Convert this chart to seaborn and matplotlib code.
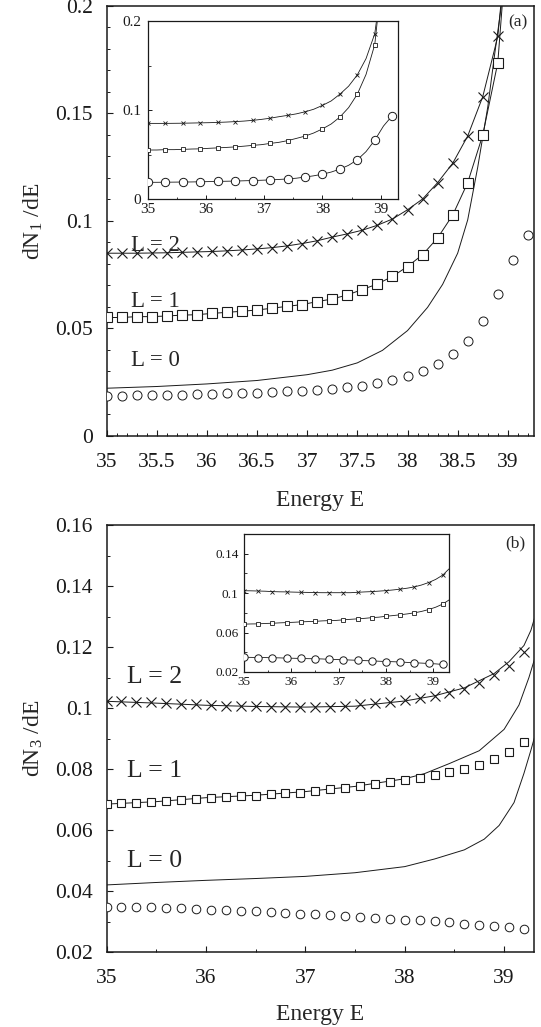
import numpy as np
import pandas as pd
import matplotlib
matplotlib.use("Agg")
import matplotlib.pyplot as plt
import seaborn as sb
from matplotlib.ticker import MultipleLocator, FixedLocator, FuncFormatter

# energies of the plotted points (step 0.15)
energy = [35.0, 35.15, 35.3, 35.45, 35.6, 35.75, 35.9, 36.05, 36.2, 36.35,
          36.5, 36.65, 36.8, 36.95, 37.1, 37.25, 37.4, 37.55, 37.7, 37.85,
          38.0, 38.15, 38.3, 38.45, 38.6, 38.75, 38.9, 39.05, 39.2]

# ---- panel (a): dN1/dE ----
a_L0_pts = [0.0188, 0.0188, 0.0189, 0.0190, 0.0191, 0.0192, 0.0194, 0.0196, 0.0198, 0.0200,
            0.0202, 0.0205, 0.0208, 0.0211, 0.0215, 0.0220, 0.0226, 0.0234, 0.0247, 0.0261,
            0.0279, 0.0303, 0.0336, 0.0379, 0.0441, 0.0533, 0.0661, 0.0820, 0.0936]
a_L1_pts = [0.0551, 0.0551, 0.0555, 0.0555, 0.0558, 0.0562, 0.0564, 0.0570, 0.0575, 0.0580,
            0.0586, 0.0594, 0.0603, 0.0611, 0.0625, 0.0637, 0.0656, 0.0681, 0.0707, 0.0742,
            0.0788, 0.0843, 0.0921, 0.1027, 0.1178, 0.1400, 0.1736]
a_L2_pts = [0.0850, 0.0850, 0.0850, 0.0851, 0.0852, 0.0854, 0.0856, 0.0858, 0.0861, 0.0865,
            0.0870, 0.0876, 0.0884, 0.0895, 0.0908, 0.0925, 0.0940, 0.0957, 0.0980, 0.1009,
            0.1052, 0.1102, 0.1178, 0.1268, 0.1395, 0.1578, 0.1858]
# theory curves: L=1, L=2 follow the points, then leave the frame
a_L1_tail_E = [38.96]
a_L1_tail = [0.21]
a_L2_tail_E = [38.95]
a_L2_tail = [0.21]
a_L0_line_E = [35.0, 35.5, 36.0, 36.5, 37.0, 37.25, 37.5, 37.75, 38.0, 38.2, 38.35,
               38.5, 38.6, 38.7, 38.8, 38.87, 38.95, 39.0]
a_L0_line = [0.0222, 0.0230, 0.0242, 0.0258, 0.0285, 0.0306, 0.0340, 0.0398, 0.0490, 0.0598,
             0.0705, 0.0850, 0.1005, 0.1250, 0.1530, 0.1780, 0.2050, 0.2200]

# ---- panel (b): dN3/dE ----
b_L0_pts = [0.0348, 0.0348, 0.0346, 0.0346, 0.0344, 0.0343, 0.0340, 0.0339, 0.0337, 0.0335,
            0.0334, 0.0332, 0.0328, 0.0326, 0.0324, 0.0321, 0.0318, 0.0315, 0.0313, 0.0309,
            0.0306, 0.0304, 0.0301, 0.0297, 0.0293, 0.0290, 0.0286, 0.0282, 0.0276]
b_L1_pts = [0.0685, 0.0687, 0.0688, 0.0692, 0.0694, 0.0698, 0.0701, 0.0704, 0.0708, 0.0711,
            0.0713, 0.0718, 0.0721, 0.0723, 0.0729, 0.0734, 0.0739, 0.0744, 0.0751, 0.0756,
            0.0765, 0.0772, 0.0780, 0.0789, 0.0800, 0.0814, 0.0833, 0.0857, 0.0889]
b_L2_pts = [0.1024, 0.1023, 0.1021, 0.1019, 0.1015, 0.1013, 0.1012, 0.1010, 0.1008, 0.1007,
            0.1005, 0.1004, 0.1004, 0.1004, 0.1004, 0.1004, 0.1008, 0.1012, 0.1015, 0.1020,
            0.1025, 0.1032, 0.1040, 0.1050, 0.1063, 0.1082, 0.1107, 0.1139, 0.1183]
b_L0_line_E = [35.0, 35.5, 36.0, 36.5, 37.0, 37.5, 38.0, 38.3, 38.6, 38.8, 38.95, 39.1,
               39.2, 39.27, 39.32]
b_L0_line = [0.0420, 0.0428, 0.0435, 0.0441, 0.0448, 0.0460, 0.0480, 0.0505, 0.0535, 0.0570,
             0.0615, 0.0690, 0.0786, 0.0862, 0.0920]
b_L1_line_E = [35.0, 35.5, 36.0, 36.5, 37.0, 37.5, 38.0, 38.2, 38.45, 38.75, 39.0, 39.15,
               39.25, 39.32]
b_L1_line = [0.0685, 0.0693, 0.0706, 0.0714, 0.0726, 0.0743, 0.0768, 0.0785, 0.0818, 0.0860,
             0.0930, 0.1010, 0.1100, 0.1175]
b_L2_line_E = [35.0, 35.5, 36.0, 36.5, 37.0, 37.5, 38.0, 38.3, 38.6, 38.9, 39.05, 39.2,
               39.27, 39.32]
b_L2_line = [0.1022, 0.1016, 0.1009, 0.1005, 0.1003, 0.1006, 0.1023, 0.1040, 0.1066, 0.1113,
             0.1152, 0.1205, 0.1255, 0.1310]
# inset (b): fitted curves run slightly past the last point
b_in_L1_tail_E = [39.33]
b_in_L1_tail = [0.0930]
b_in_L2_tail_E = [39.33]
b_in_L2_tail = [0.1245]
b_in_yticks = [0.02, 0.06, 0.1, 0.14]

labels_L = ["L = 0", "L = 1", "L = 2"]
a_label_y = [0.0353, 0.0625, 0.0888]
b_label_y = [0.0498, 0.0795, 0.1101]

sb.set_theme(style="ticks")
plt.rcParams['font.family'] = ['Liberation Serif', 'DejaVu Serif']
plt.rcParams['mathtext.fontset'] = 'custom'
plt.rcParams['mathtext.rm'] = 'Liberation Serif'
plt.rcParams['mathtext.it'] = 'Liberation Serif:italic'


def curve(ax, x, y, lw=0.7):
    sb.lineplot(x=list(x), y=list(y), ax=ax, color='k', lw=lw,
                estimator=None, sort=False, zorder=2)


def marks(ax, x, y, marker, ms, mew=0.8):
    sb.lineplot(x=list(x), y=list(y), ax=ax, color='k', linestyle='none',
                marker=marker, markersize=ms, markerfacecolor='white',
                markeredgecolor='k', markeredgewidth=mew,
                estimator=None, sort=False, zorder=3)


fmt = FuncFormatter(lambda v, p: f"{v:g}")


def style_main(ax, xmaj, xmin, ymaj, ymin):
    ax.xaxis.set_major_locator(MultipleLocator(xmaj))
    ax.xaxis.set_minor_locator(MultipleLocator(xmin))
    ax.yaxis.set_major_locator(MultipleLocator(ymaj))
    ax.yaxis.set_minor_locator(MultipleLocator(ymin))
    ax.xaxis.set_major_formatter(fmt)
    ax.yaxis.set_major_formatter(fmt)
    ax.tick_params(which='both', direction='in', top=False, right=False,
                   labelsize=15.5, colors='k')
    ax.tick_params(which='major', length=4.5, width=0.8)
    ax.tick_params(which='minor', length=2.5, width=0.7)
    ax.tick_params(axis='x', pad=12)
    ax.tick_params(axis='y', pad=10)
    for s in ax.spines.values():
        s.set_linewidth(1.1)
        s.set_color('k')


def style_inset(ax, yticks, ymin, size, pad_x, pad_y):
    ax.xaxis.set_major_locator(MultipleLocator(1))
    ax.xaxis.set_minor_locator(MultipleLocator(0.5))
    ax.yaxis.set_major_locator(FixedLocator(yticks))
    ax.yaxis.set_minor_locator(MultipleLocator(ymin))
    ax.xaxis.set_major_formatter(fmt)
    ax.yaxis.set_major_formatter(fmt)
    ax.tick_params(which='both', direction='in', top=False, right=False,
                   labelsize=size, colors='k')
    ax.tick_params(which='major', length=3, width=0.7)
    ax.tick_params(which='minor', length=1.8, width=0.6)
    ax.tick_params(axis='x', pad=pad_x)
    ax.tick_params(axis='y', pad=pad_y)
    ax.set_xlabel('')
    ax.set_ylabel('')
    for s in ax.spines.values():
        s.set_linewidth(0.9)
        s.set_color('k')


fig = plt.figure(figsize=(5.41, 10.27), dpi=100)
fig.patch.set_facecolor('white')

# ---------------- panel (a) ----------------
axa = fig.add_axes([0.1969, 0.5755, 0.790, 0.4187])
axa.set_facecolor('white')
curve(axa, a_L0_line_E, a_L0_line)
curve(axa, energy[:27] + a_L1_tail_E, a_L1_pts + a_L1_tail)
curve(axa, energy[:27] + a_L2_tail_E, a_L2_pts + a_L2_tail)
marks(axa, energy, a_L0_pts, 'o', 6.5, 0.7)
marks(axa, energy[:27], a_L1_pts, 's', 6.7, 0.8)
marks(axa, energy[:27], a_L2_pts, 'x', 6.7, 0.8)
axa.set_xlim(35, 39.26)
axa.set_ylim(0, 0.2)
style_main(axa, 0.5, 0.1, 0.05, 0.01)
axa.set_xlabel('Energy E', fontsize=17, labelpad=13)
axa.set_ylabel(r'dN$_{\mathrm{1}}$ /dE', fontsize=17, labelpad=7)
for t, yv in zip(labels_L, a_label_y):
    axa.text(35.24, yv, t, fontsize=16.5, ha='left', va='center')
axa.text(0.963, 0.961, '(a)', transform=axa.transAxes, fontsize=12.5,
         ha='center', va='center')

ina = fig.add_axes([0.2736, 0.8062, 0.4621, 0.1733])
ina.set_facecolor('white')
curve(ina, energy, a_L0_pts, 0.6)
curve(ina, energy[:27] + a_L1_tail_E, a_L1_pts + a_L1_tail, 0.6)
curve(ina, energy[:27] + a_L2_tail_E, a_L2_pts + a_L2_tail, 0.6)
marks(ina, energy[::2], a_L0_pts[::2], 'o', 6.0, 0.7)
marks(ina, energy[:27:2], a_L1_pts[::2], 's', 3.4, 0.6)
marks(ina, energy[:27:2], a_L2_pts[::2], 'x', 3.2, 0.6)
ina.set_xlim(35, 39.3)
ina.set_ylim(0, 0.2)
style_inset(ina, [0, 0.1, 0.2], 0.05, 11, 2.5, 5)

# ---------------- panel (b) ----------------
axb = fig.add_axes([0.1969, 0.0730, 0.790, 0.4158])
axb.set_facecolor('white')
curve(axb, b_L0_line_E, b_L0_line)
curve(axb, b_L1_line_E, b_L1_line)
curve(axb, b_L2_line_E, b_L2_line)
marks(axb, energy, b_L0_pts, 'o', 6.2, 0.7)
marks(axb, energy, b_L1_pts, 's', 6.3, 0.8)
marks(axb, energy, b_L2_pts, 'x', 6.5, 0.8)
axb.set_xlim(35, 39.3)
axb.set_ylim(0.02, 0.16)
style_main(axb, 1, 0.5, 0.02, 0.01)
axb.set_xlabel('Energy E', fontsize=17, labelpad=12)
axb.set_ylabel(r'dN$_{\mathrm{3}}$ /dE', fontsize=17, labelpad=7)
for t, yv in zip(labels_L, b_label_y):
    axb.text(35.21, yv, t, fontsize=18.5, ha='left', va='center')
axb.text(0.956, 0.957, '(b)', transform=axb.transAxes, fontsize=12.5,
         ha='center', va='center')

inb = fig.add_axes([0.4510, 0.3457, 0.3789, 0.1344])
inb.set_facecolor('white')
curve(inb, energy, b_L0_pts, 0.6)
curve(inb, energy + b_in_L1_tail_E, b_L1_pts + b_in_L1_tail, 0.6)
curve(inb, energy + b_in_L2_tail_E, b_L2_pts + b_in_L2_tail, 0.6)
marks(inb, energy[::2], b_L0_pts[::2], 'o', 5.3, 0.7)
marks(inb, energy[::2], b_L1_pts[::2], 's', 2.6, 0.6)
marks(inb, energy[::2], b_L2_pts[::2], 'x', 2.4, 0.6)
inb.set_xlim(35, 39.33)
inb.set_ylim(0.02, 0.16)
style_inset(inb, b_in_yticks, 0.02, 9.5, 3, 4)

fig.savefig('out.png', dpi=100, facecolor='white')
